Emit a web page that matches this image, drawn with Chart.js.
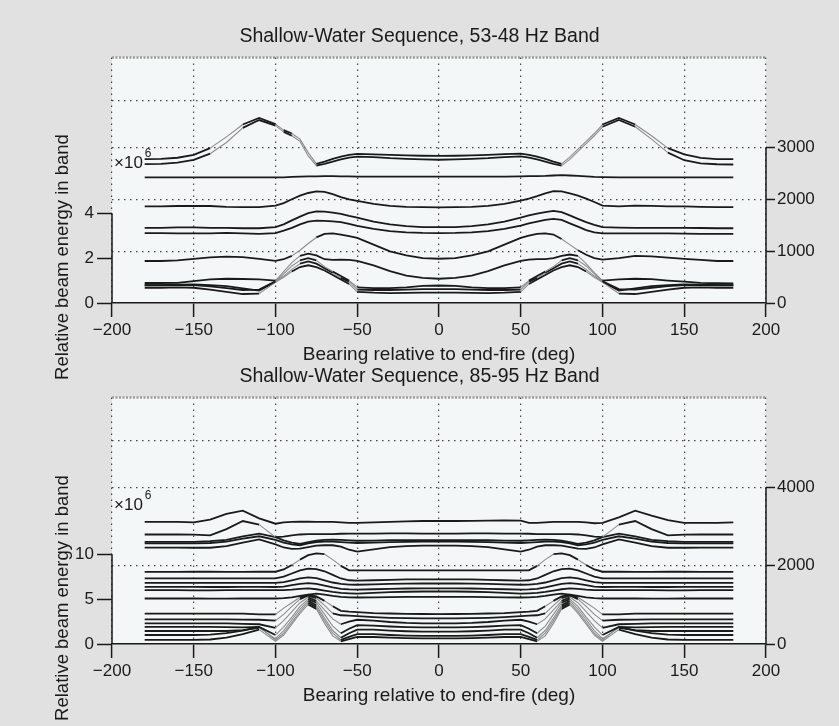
<!DOCTYPE html>
<html>
<head>
<meta charset="utf-8">
<title>Shallow-Water Sequence</title>
<script src="https://cdn.jsdelivr.net/npm/chart.js@4.4.1/dist/chart.umd.min.js"></script>
<style>
  html, body { margin: 0; padding: 0; background: #e1e1e1; }
  #wrap { position: relative; width: 839px; height: 726px; overflow: hidden; }
  #wrap canvas { position: absolute; left: 0; top: 0; }
</style>
</head>
<body>
<div id="wrap">
  <canvas id="top-chart" width="839" height="726"></canvas>
  <canvas id="bottom-chart" width="839" height="726"></canvas>
</div>
<script>
// bearing (deg) shared by every trace
const bearings = [-180,-170,-160,-150,-140,-130,-120,-110,-100,-95,-90,-85,-80,-75,-70,-65,-60,-55,-50,-40,-30,-20,-10,0,
  10,20,30,40,50,55,60,65,70,75,80,85,90,95,100,110,120,130,140,150,160,170,180];

const xTicks = [-200, -150, -100, -50, 0, 50, 100, 150, 200];

// ---- 53-48 Hz band (x10^6) ----
const topTicksLeft = [0, 2, 4];
const topTicksRight = [0, 1000, 2000, 3000];
const topGridAt = [1000, 2000, 3000, 3900];

const topA = [6.41,6.42,6.47,6.6,6.9,7.4,7.95,8.24,7.97,7.7,7.55,7.3,6.7,6.2,6.3,6.42,6.52,6.6,6.64,6.62,6.6,6.58,6.56,6.55,
  6.56,6.58,6.6,6.63,6.65,6.6,6.52,6.42,6.3,6.2,6.5,6.85,7.2,7.55,7.95,8.24,7.95,7.45,6.9,6.62,6.46,6.41,6.41];
const topB = [6.19,6.2,6.25,6.38,6.65,7.15,7.8,8.15,7.9,7.62,7.45,7.2,6.55,6.12,6.2,6.3,6.4,6.48,6.52,6.5,6.45,6.42,6.4,6.38,
  6.4,6.42,6.45,6.5,6.53,6.48,6.4,6.3,6.2,6.12,6.4,6.75,7.1,7.45,7.85,8.15,7.85,7.3,6.7,6.36,6.22,6.18,6.17];
const topC = [5.6,5.6,5.6,5.6,5.6,5.6,5.6,5.6,5.6,5.6,5.62,5.63,5.64,5.64,5.65,5.65,5.64,5.64,5.63,5.63,5.63,5.63,5.63,5.63,
  5.63,5.63,5.63,5.63,5.64,5.65,5.65,5.66,5.68,5.7,5.68,5.66,5.64,5.62,5.61,5.6,5.6,5.6,5.6,5.6,5.6,5.6,5.6];
const topD = [4.3,4.3,4.32,4.33,4.32,4.28,4.27,4.27,4.34,4.45,4.62,4.78,4.9,4.97,4.95,4.85,4.72,4.62,4.55,4.42,4.33,4.28,4.27,4.26,
  4.27,4.28,4.33,4.42,4.56,4.65,4.76,4.88,4.98,4.97,4.88,4.78,4.65,4.5,4.34,4.3,4.34,4.33,4.3,4.3,4.28,4.27,4.27];
const topE = [3.35,3.35,3.37,3.37,3.35,3.35,3.33,3.33,3.38,3.5,3.68,3.85,4.0,4.08,4.07,4.03,3.97,3.88,3.8,3.62,3.5,3.42,3.38,3.38,
  3.38,3.42,3.5,3.62,3.8,3.9,3.98,4.05,4.1,4.05,3.9,3.75,3.6,3.48,3.38,3.36,3.35,3.35,3.35,3.35,3.34,3.33,3.33];
const topF = [3.11,3.11,3.1,3.1,3.1,3.12,3.1,3.08,3.11,3.22,3.35,3.5,3.62,3.67,3.66,3.64,3.6,3.52,3.44,3.3,3.2,3.15,3.12,3.11,
  3.12,3.15,3.2,3.3,3.45,3.55,3.63,3.7,3.75,3.7,3.55,3.4,3.25,3.15,3.1,3.1,3.1,3.1,3.1,3.09,3.08,3.08,3.08];
const topG = [1.87,1.87,1.9,1.97,2.03,2.07,2.04,1.97,1.88,1.95,2.1,2.35,2.65,2.92,3.08,3.1,3.05,2.98,2.9,2.6,2.3,2.12,2.0,1.97,
  2.0,2.12,2.3,2.6,2.9,3.0,3.08,3.1,3.05,2.85,2.6,2.35,2.15,2.0,1.93,2.0,2.1,2.08,2.02,1.97,1.92,1.87,1.87];
const topH = [0.89,0.89,0.9,0.97,1.05,1.08,1.07,1.05,1.0,1.4,1.8,2.1,2.2,2.12,1.95,1.92,1.93,1.92,1.88,1.68,1.42,1.22,1.12,1.08,
  1.12,1.22,1.42,1.68,1.88,1.93,1.95,1.95,2.0,2.1,2.16,2.1,1.75,1.35,1.0,1.05,1.08,1.06,1.0,0.95,0.9,0.88,0.87];
const topI = [0.79,0.79,0.8,0.8,0.74,0.66,0.58,0.6,0.97,1.3,1.65,1.9,2.0,1.9,1.62,1.4,1.2,1.0,0.7,0.66,0.66,0.7,0.76,0.78,
  0.76,0.7,0.66,0.66,0.7,1.0,1.2,1.4,1.62,1.9,2.0,1.9,1.65,1.3,0.97,0.62,0.6,0.68,0.75,0.8,0.8,0.79,0.79];
const topJ = [0.68,0.68,0.7,0.68,0.6,0.5,0.4,0.42,0.92,1.15,1.4,1.6,1.68,1.6,1.45,1.25,1.05,0.85,0.5,0.46,0.44,0.45,0.46,0.46,
  0.46,0.45,0.44,0.46,0.5,0.85,1.05,1.25,1.45,1.6,1.68,1.6,1.4,1.15,0.92,0.42,0.4,0.5,0.6,0.68,0.7,0.68,0.68];
const topK = [0.8,0.8,0.82,0.83,0.8,0.75,0.65,0.55,0.95,1.2,1.5,1.75,1.85,1.75,1.55,1.35,1.12,0.95,0.6,0.58,0.58,0.6,0.62,0.62,
  0.62,0.6,0.58,0.58,0.6,0.95,1.12,1.35,1.55,1.75,1.85,1.75,1.5,1.2,0.95,0.55,0.65,0.75,0.8,0.83,0.82,0.8,0.8];

// ---- 85-95 Hz band (x10^6) ----
const botTicksLeft = [0, 5, 10];
const botTicksRight = [0, 2000, 4000];
const botGridAt = [2000, 4000, 5190];

const botP1 = [13.6,13.6,13.6,13.55,13.85,14.5,14.85,14.0,13.4,13.55,13.6,13.62,13.62,13.6,13.6,13.6,13.55,13.5,13.5,13.55,13.6,13.65,13.7,13.7,
  13.7,13.72,13.75,13.78,13.75,13.5,13.5,13.55,13.6,13.6,13.6,13.6,13.55,13.45,13.5,14.1,14.85,14.3,13.8,13.5,13.5,13.5,13.55];
const botP2 = [12.2,12.2,12.2,12.18,12.1,12.8,13.7,13.3,11.9,11.95,12.1,12.2,12.25,12.25,12.25,12.25,12.28,12.3,12.3,12.3,12.32,12.32,12.3,12.3,
  12.3,12.32,12.32,12.3,12.3,12.28,12.25,12.25,12.25,12.25,12.25,12.2,12.1,11.95,11.9,13.3,13.7,12.8,12.1,12.18,12.2,12.2,12.2];
const botP3 = [11.37,11.37,11.37,11.37,11.45,11.6,12.0,12.3,11.9,11.55,11.3,11.15,11.35,11.5,11.6,11.62,11.6,11.55,11.5,11.52,11.56,11.58,11.58,11.56,
  11.58,11.58,11.56,11.52,11.5,11.55,11.6,11.62,11.6,11.5,11.35,11.15,11.3,11.55,11.9,12.3,12.0,11.6,11.45,11.37,11.37,11.37,11.37];
const botP4 = [11.2,11.2,11.22,11.22,11.25,11.4,11.75,12.0,11.6,11.3,11.1,11.0,11.2,11.35,11.4,11.4,11.35,11.3,11.25,11.3,11.35,11.38,11.4,11.4,
  11.4,11.38,11.35,11.3,11.25,11.3,11.35,11.4,11.4,11.35,11.2,11.0,11.1,11.3,11.6,12.0,11.75,11.4,11.25,11.22,11.22,11.2,11.2];
const botP5 = [10.74,10.74,10.74,10.72,10.72,10.9,11.3,11.65,11.1,10.75,10.6,10.62,10.8,10.95,11.0,11.0,10.85,10.5,10.3,10.55,10.8,10.9,10.95,10.95,
  10.95,10.9,10.8,10.55,10.3,10.5,10.85,11.0,11.0,10.95,10.8,10.62,10.6,10.75,11.1,11.65,11.3,10.9,10.72,10.72,10.74,10.74,10.74];
const botM1 = [8.04,8.04,8.04,8.05,8.05,8.04,8.04,8.05,8.05,8.3,8.8,9.4,9.9,10.1,10.0,9.4,8.7,8.2,8.2,8.2,8.2,8.2,8.2,8.2,
  8.2,8.2,8.2,8.2,8.2,8.2,8.7,9.4,10.0,10.1,9.9,9.4,8.8,8.3,8.05,8.05,8.04,8.04,8.05,8.05,8.04,8.04,8.04];
const botM2 = [7.3,7.3,7.3,7.32,7.32,7.3,7.3,7.3,7.3,7.5,7.85,8.2,8.4,8.35,8.1,7.7,7.3,7.1,7.05,7.1,7.15,7.2,7.2,7.2,
  7.2,7.2,7.15,7.1,7.05,7.1,7.3,7.7,8.1,8.35,8.4,8.2,7.85,7.5,7.3,7.3,7.3,7.3,7.32,7.32,7.3,7.3,7.3];
const botM3 = [6.81,6.81,6.8,6.8,6.82,6.82,6.8,6.8,6.82,6.9,7.1,7.3,7.42,7.35,7.1,6.85,6.7,6.62,6.6,6.65,6.7,6.72,6.74,6.74,
  6.74,6.72,6.7,6.65,6.6,6.62,6.7,6.85,7.1,7.35,7.42,7.3,7.1,6.9,6.82,6.8,6.8,6.82,6.82,6.8,6.8,6.81,6.81];
const botM4 = [6.37,6.37,6.36,6.36,6.35,6.35,6.36,6.36,6.35,6.4,6.55,6.7,6.78,6.7,6.5,6.3,6.15,6.08,6.05,6.1,6.15,6.18,6.2,6.2,
  6.2,6.18,6.15,6.1,6.05,6.08,6.15,6.3,6.5,6.7,6.78,6.7,6.55,6.4,6.35,6.36,6.36,6.35,6.35,6.36,6.36,6.37,6.37];
const botM5 = [6.0,6.0,6.0,5.98,5.98,6.0,6.0,6.0,6.0,6.0,6.05,6.15,6.2,6.1,5.95,5.8,5.7,5.65,5.62,5.7,5.78,5.82,5.85,5.85,
  5.85,5.82,5.78,5.7,5.62,5.65,5.7,5.8,5.95,6.1,6.2,6.15,6.05,6.0,6.0,6.0,6.0,6.0,5.98,5.98,6.0,6.0,6.0];
const botM6 = [5.07,5.07,5.07,5.07,5.05,5.05,5.07,5.07,5.07,5.1,5.2,5.35,5.5,5.6,5.5,5.35,5.25,5.2,5.18,5.2,5.22,5.25,5.26,5.26,
  5.26,5.25,5.22,5.2,5.18,5.2,5.25,5.35,5.5,5.6,5.5,5.35,5.2,5.1,5.07,5.07,5.07,5.05,5.05,5.07,5.07,5.07,5.07];
const botB1 = [3.38,3.38,3.38,3.38,3.38,3.38,3.38,3.3,3.3,4.0,4.6,5.2,5.5,5.3,4.8,4.2,3.7,3.6,3.55,3.45,3.4,3.36,3.34,3.33,
  3.34,3.36,3.4,3.45,3.55,3.6,3.7,4.2,4.8,5.3,5.5,5.2,4.6,4.0,3.3,3.3,3.38,3.38,3.38,3.38,3.38,3.38,3.38];
const botB2 = [2.75,2.75,2.75,2.75,2.75,2.75,2.72,2.7,2.6,3.3,4.2,5.0,5.4,5.1,4.3,3.4,3.2,3.15,3.1,3.0,2.92,2.88,2.85,2.85,
  2.85,2.88,2.92,3.0,3.1,3.15,3.2,3.4,4.3,5.1,5.4,5.0,4.2,3.3,2.6,2.7,2.72,2.75,2.75,2.75,2.75,2.75,2.75];
const botB3 = [2.3,2.3,2.3,2.3,2.3,2.3,2.25,2.2,1.8,2.6,3.6,4.6,5.2,4.8,3.8,2.8,2.2,2.5,2.7,2.6,2.45,2.35,2.3,2.3,
  2.3,2.35,2.45,2.6,2.7,2.5,2.2,2.8,3.8,4.8,5.2,4.6,3.6,2.6,1.8,2.2,2.25,2.3,2.3,2.3,2.3,2.3,2.3];
const botB4 = [1.9,1.9,1.9,1.9,1.9,1.88,1.85,1.9,1.0,1.9,3.0,4.2,5.0,4.6,3.3,2.0,1.2,1.7,2.1,2.05,1.95,1.88,1.85,1.85,
  1.85,1.88,1.95,2.05,2.1,1.7,1.2,2.0,3.3,4.6,5.0,4.2,3.0,1.9,1.0,1.9,1.85,1.88,1.9,1.9,1.9,1.9,1.9];
const botB5 = [1.45,1.45,1.45,1.45,1.45,1.45,1.55,1.8,0.6,1.5,2.7,3.9,4.8,4.3,2.9,1.5,0.7,1.2,1.6,1.6,1.5,1.42,1.38,1.37,
  1.38,1.42,1.5,1.6,1.6,1.2,0.7,1.5,2.9,4.3,4.8,3.9,2.7,1.5,0.6,1.8,1.55,1.45,1.45,1.45,1.45,1.45,1.45];
const botB6 = [1.0,1.0,1.0,1.0,1.05,1.2,1.5,1.9,0.45,1.2,2.4,3.6,4.6,4.1,2.6,1.2,0.45,0.8,1.1,1.1,1.0,0.93,0.9,0.9,
  0.9,0.93,1.0,1.1,1.1,0.8,0.45,1.2,2.6,4.1,4.6,3.6,2.4,1.2,0.45,1.9,1.5,1.2,1.05,1.0,1.0,1.0,1.0];
const botB7 = [0.45,0.45,0.45,0.45,0.5,0.7,1.1,1.6,0.3,1.0,2.2,3.4,4.4,3.9,2.3,0.9,0.3,0.55,0.8,0.78,0.7,0.65,0.63,0.63,
  0.63,0.65,0.7,0.78,0.8,0.55,0.3,0.9,2.3,3.9,4.4,3.4,2.2,1.0,0.3,1.6,1.1,0.7,0.5,0.45,0.45,0.45,0.45];

const FONT = '"Liberation Sans", Arial, Helvetica, sans-serif';
const INK = "#1a1a1a";
const GRID = "#444444";

// steep pieces of the scanned traces come out faint and thin
const isSteep = (c) => Math.abs(c.p1.y - c.p0.y) > 0.6 * Math.abs(c.p1.x - c.p0.x);

const lineSet = (vals) => ({
  data: bearings.map((b, i) => ({ x: b, y: vals[i] })),
  yAxisID: "y",
  borderColor: INK,
  borderWidth: 1.8,
  pointRadius: 0,
  tension: 0,
  fill: false,
  segment: {
    borderColor: (c) => (isSteep(c) ? "#8c8c8c" : INK),
    borderWidth: (c) => (isSteep(c) ? 1.1 : 1.8),
  },
});

const setTicks = (list) => (scale) => {
  scale.ticks = list.map((v) => ({ value: v }));
};

const fmt = (v) => (v < 0 ? "\u2212" + Math.abs(v) : String(v));

// frame, partial axis lines, x10^6 and the side label
const panelDecor = {
  id: "panelDecor",
  beforeDraw(chart) {
    const { ctx, chartArea: a } = chart;
    ctx.save();
    ctx.fillStyle = "#f4f7f7";
    ctx.fillRect(a.left, a.top, a.right - a.left, a.bottom - a.top);
    ctx.restore();
  },
  afterDraw(chart, args, opts) {
    const { ctx, chartArea: a, scales } = chart;
    ctx.save();
    ctx.strokeStyle = "#9c9c9c";
    ctx.lineWidth = 2.5;
    ctx.setLineDash([2, 1.5]);
    ctx.beginPath();
    ctx.moveTo(a.left, a.top);
    ctx.lineTo(a.right, a.top);
    ctx.stroke();

    ctx.setLineDash([]);
    ctx.strokeStyle = INK;
    ctx.lineWidth = 1.5;
    ctx.beginPath();
    ctx.moveTo(a.left, scales.y.getPixelForValue(0));
    ctx.lineTo(a.left, scales.y.getPixelForValue(opts.leftTop));
    ctx.moveTo(a.right, scales.y2.getPixelForValue(0));
    ctx.lineTo(a.right, scales.y2.getPixelForValue(opts.rightTop));
    ctx.stroke();

    ctx.fillStyle = INK;
    ctx.textAlign = "left";
    ctx.textBaseline = "middle";
    ctx.font = `17px ${FONT}`;
    const ey = scales.y.getPixelForValue(opts.expoAt);
    ctx.fillText("\u00d710", a.left + 2, ey);
    const w = ctx.measureText("\u00d710").width;
    ctx.font = `12px ${FONT}`;
    ctx.fillText("6", a.left + 4 + w, ey - 10);

    ctx.font = `18.5px ${FONT}`;
    ctx.textAlign = "center";
    ctx.translate(a.left - 49, a.bottom - 46);
    ctx.rotate(-Math.PI / 2);
    ctx.fillText(opts.yLabel, 0, 0);
    ctx.restore();
  },
};

const tickFont = { family: FONT, size: 17 };

const buildPanel = (id, cfg) =>
  new Chart(document.getElementById(id), {
    type: "line",
    data: { datasets: cfg.series.map(lineSet) },
    options: {
      responsive: false,
      animation: false,
      devicePixelRatio: 1,
      layout: { padding: { top: cfg.padTop, bottom: cfg.padBottom, left: 0, right: 0 } },
      plugins: {
        legend: { display: false },
        tooltip: { enabled: false },
        title: {
          display: true,
          text: cfg.title,
          color: INK,
          font: { family: FONT, size: 19.5, weight: "normal" },
          padding: { top: 4, bottom: 9 },
        },
        panelDecor: {
          leftTop: cfg.leftTicks[cfg.leftTicks.length - 1],
          rightTop: cfg.rightTicks[cfg.rightTicks.length - 1],
          expoAt: cfg.expoAt,
          yLabel: "Relative beam energy in band",
        },
      },
      scales: {
        x: {
          type: "linear",
          min: -200,
          max: 200,
          afterBuildTicks: setTicks(xTicks),
          afterFit: (s) => { s.height = 64; },
          ticks: { color: INK, font: tickFont, padding: 3, maxRotation: 0, callback: fmt },
          grid: { color: GRID, lineWidth: 1.2, tickColor: INK, tickLength: 14, tickWidth: 1.5 },
          border: { display: true, color: INK, width: 1.5, dash: [1.5, 4.5] },
          title: {
            display: true,
            text: "Bearing relative to end-fire (deg)",
            color: INK,
            font: { family: FONT, size: 19 },
            padding: { top: 0, bottom: 1 },
          },
        },
        y: {
          position: "left",
          min: 0,
          max: cfg.leftMax,
          afterBuildTicks: setTicks(cfg.leftTicks),
          afterFit: (s) => { s.width = 112; },
          ticks: { color: INK, font: tickFont, padding: 3, callback: fmt },
          grid: { drawOnChartArea: false, color: "rgba(0,0,0,0)", tickColor: INK, tickLength: 15, tickWidth: 1.5 },
          border: { display: false },
        },
        y2: {
          position: "right",
          min: 0,
          max: cfg.rightMax,
          afterBuildTicks: setTicks(cfg.rightTicks),
          afterFit: (s) => { s.width = 73; },
          ticks: { color: INK, font: tickFont, padding: 2, callback: fmt },
          grid: { drawOnChartArea: false, color: "rgba(0,0,0,0)", tickColor: INK, tickLength: 9, tickWidth: 1.5 },
          border: { display: false },
        },
        yg: {
          position: "right",
          min: 0,
          max: cfg.rightMax,
          afterBuildTicks: setTicks(cfg.gridAt),
          afterFit: (s) => { s.width = 0; },
          ticks: { display: false },
          grid: { color: GRID, lineWidth: 1.2, drawTicks: false },
          border: { display: false, dash: [1.5, 4.5] },
        },
      },
    },
    plugins: [panelDecor],
  });

buildPanel("top-chart", {
  title: "Shallow-Water Sequence, 53-48 Hz Band",
  series: [topA, topB, topC, topD, topE, topF, topG, topH, topI, topJ, topK],
  leftTicks: topTicksLeft,
  rightTicks: topTicksRight,
  gridAt: topGridAt,
  leftMax: 10.94,
  rightMax: 4735,
  expoAt: 6.2,
  padTop: 21,
  padBottom: 359,
});

buildPanel("bottom-chart", {
  title: "Shallow-Water Sequence, 85-95 Hz Band",
  series: [botP1, botP2, botP3, botP4, botP5, botM1, botM2, botM3, botM4, botM5, botM6,
    botB1, botB2, botB3, botB4, botB5, botB6, botB7],
  leftTicks: botTicksLeft,
  rightTicks: botTicksRight,
  gridAt: botGridAt,
  leftMax: 27.47,
  rightMax: 6290,
  expoAt: 15.4,
  padTop: 361,
  padBottom: 18,
});
</script>
</body>
</html>
